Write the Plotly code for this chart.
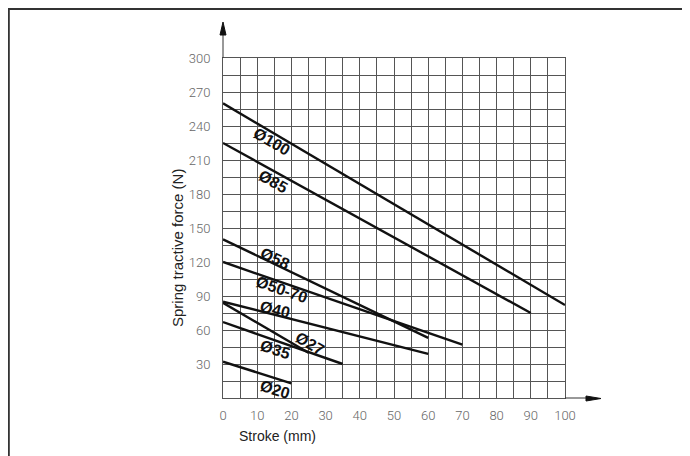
import plotly.graph_objects as go

# ---- data ----
series_names = ["Ø100", "Ø85", "Ø58", "Ø50-70", "Ø40", "Ø27", "Ø35", "Ø20"]
stroke_start = [0, 0, 0, 0, 0, 0, 0, 0]
stroke_end = [100, 90, 60, 70, 60, 25, 35, 20]
force_start = [260, 225, 140, 120, 85, 84, 67, 32]
force_end = [82, 75, 53, 47, 39, 40, 30, 13]

label_x = [14.2, 14.6, 15.2, 17.2, 15.2, 25.4, 15.2, 15.2]
label_y = [226, 191, 123.5, 95.6, 78.4, 48.5, 42.6, 7.9]
label_angle = [30, 29, 25, 19, 14, 30, 18, 17]

x_ticks = [0, 10, 20, 30, 40, 50, 60, 70, 80, 90, 100]
y_ticks = [30, 60, 90, 120, 150, 180, 210, 240, 270, 300]

# The page body has an 8px margin, so the figure is sized to fill the rest.
OFF = 8
W, H = 690 - OFF, 456 - OFF
L, T = 223 - OFF, 58 - OFF
PW, PH = 342, 340
R, B = W - L - PW, H - T - PH


def px(xp):  # page pixel x -> paper
    return (xp - OFF - L) / PW


def py(yp):  # page pixel y -> paper
    return (T + PH - (yp - OFF)) / PH


fig = go.Figure()
for i, name in enumerate(series_names):
    fig.add_trace(go.Scatter(
        x=[stroke_start[i], stroke_end[i]],
        y=[force_start[i], force_end[i]],
        mode="lines", line=dict(color="#111111", width=2.4),
        name=name, showlegend=False, hoverinfo="skip"))

for i, name in enumerate(series_names):
    fig.add_annotation(x=label_x[i], y=label_y[i], text=name, showarrow=False,
                       textangle=label_angle[i], xanchor="center", yanchor="middle",
                       font=dict(family="Liberation Sans, Arial, sans-serif", size=16,
                                 color="#111111", weight="bold"))

tickfont = dict(family="Roboto, Liberation Sans, Arial, sans-serif",
                size=13, color="#666666", weight=300)
grid = "#555555"
fig.update_xaxes(range=[0, 100], tickvals=x_ticks, ticktext=[str(v) for v in x_ticks],
                 showgrid=True, gridcolor=grid, gridwidth=1,
                 minor=dict(dtick=5, showgrid=True, gridcolor=grid, gridwidth=1),
                 showline=True, linecolor=grid, linewidth=1, mirror=True,
                 zeroline=False, ticks="", tickfont=tickfont, ticklabelstandoff=5)
fig.update_yaxes(range=[0, 300], tickvals=y_ticks, ticktext=[str(v) for v in y_ticks],
                 showgrid=True, gridcolor=grid, gridwidth=1,
                 minor=dict(dtick=15, showgrid=True, gridcolor=grid, gridwidth=1),
                 showline=True, linecolor=grid, linewidth=1, mirror=True,
                 zeroline=False, ticks="", tickfont=tickfont, ticklabelstandoff=9)

shapes = []
# y axis arrow
shapes.append(dict(type="line", xref="paper", yref="paper", x0=0, x1=0, y0=1, y1=py(30),
                   line=dict(color="#333333", width=1)))
shapes.append(dict(type="path", xref="paper", yref="paper",
                   path=f"M {px(220)} {py(35)} L {px(223)} {py(22)} L {px(226)} {py(35)} Z",
                   fillcolor="#111111", line=dict(color="#111111", width=1)))
# x axis arrow
shapes.append(dict(type="line", xref="paper", yref="paper", x0=1, x1=px(592), y0=0, y1=0,
                   line=dict(color="#333333", width=1)))
shapes.append(dict(type="path", xref="paper", yref="paper",
                   path=f"M {px(586)} {py(396)} L {px(601)} {py(398.5)} L {px(586)} {py(401)} Z",
                   fillcolor="#111111", line=dict(color="#111111", width=1)))
# outer frame
shapes.append(dict(type="line", xref="paper", yref="paper", x0=px(8.8), x1=px(8.8), y0=py(8), y1=py(470),
                   line=dict(color="#333333", width=2)))
shapes.append(dict(type="line", xref="paper", yref="paper", x0=px(8), x1=px(700), y0=py(9), y1=py(9),
                   line=dict(color="#333333", width=2)))

fig.add_annotation(xref="paper", yref="paper", x=px(177), y=py(248), text="Spring tractive force (N)",
                   showarrow=False, textangle=-90, xanchor="center", yanchor="middle",
                   font=dict(family="Liberation Sans, Arial, sans-serif", size=15, color="#222222"))
fig.add_annotation(xref="paper", yref="paper", x=px(277), y=py(436), text="Stroke (mm)",
                   showarrow=False, xanchor="center", yanchor="middle",
                   font=dict(family="Liberation Sans, Arial, sans-serif", size=14, color="#222222"))

fig.update_layout(width=W, height=H, autosize=False,
                  margin=dict(l=L, r=R, t=T, b=B, pad=0),
                  plot_bgcolor="white", paper_bgcolor="white",
                  shapes=shapes, showlegend=False)

fig.write_html("out.html")
